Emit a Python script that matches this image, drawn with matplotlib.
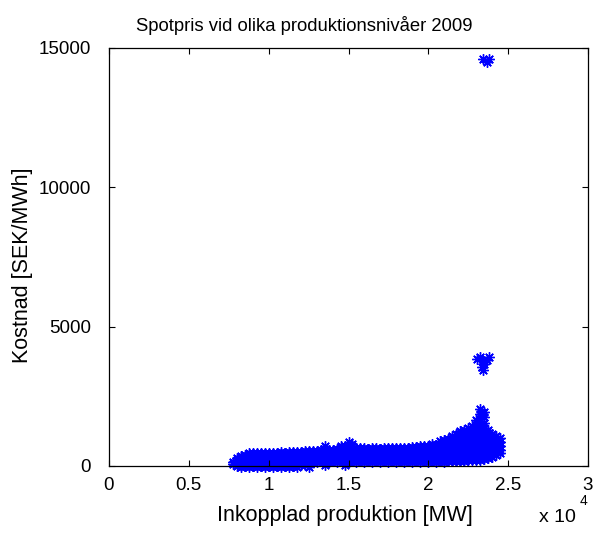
import matplotlib
matplotlib.use("Agg")
import matplotlib.pyplot as plt
from matplotlib.ticker import FixedLocator, FixedFormatter

plt.rcParams['font.family'] = ['Liberation Sans', 'DejaVu Sans']

# ---- data ----
title = "Spotpris vid olika produktionsnivåer 2009"
xlabel = "Inkopplad produktion [MW]"
ylabel = "Kostnad [SEK/MWh]"

x_ticks = [0, 5000, 10000, 15000, 20000, 25000, 30000]
x_tick_labels = ["0", "0.5", "1", "1.5", "2", "2.5", "3"]
y_ticks = [0, 5000, 10000, 15000]
y_tick_labels = ["0", "5000", "10000", "15000"]

# production levels (MW) and the prices (SEK/MWh) observed at each level
levels_mw = [7750, 8000, 8250, 8500, 8750, 9000, 9250, 9500, 9750, 10000,
             10250, 10500, 10750, 11000, 11250, 11500, 11750, 12000, 12250, 12500,
             12750, 13000, 13250, 13500, 13750, 14000, 14250, 14500, 14750, 15000,
             15250, 15500, 15750, 16000, 16250, 16500, 16750, 17000, 17250, 17500,
             17750, 18000, 18250, 18500, 18750, 19000, 19250, 19500, 19750, 20000,
             20250, 20500, 20750, 21000, 21250, 21500, 21750, 22000, 22250, 22500,
             22750, 23000, 23250, 23500, 23750, 24000, 24250, 24500]
prices_by_level = [
    [60, 150],
    [0, 110, 220, 300],
    [-20, 90, 200, 320, 360],
    [0, 100, 200, 300, 400],
    [-30, 80, 190, 290, 380, 450],
    [0, 110, 220, 320, 410, 470],
    [-20, 90, 200, 300, 400, 460],
    [0, 120, 230, 330, 420, 480],
    [-40, 80, 190, 290, 390, 470],
    [0, 100, 210, 310, 410, 470],
    [-20, 90, 200, 300, 400, 480],
    [0, 110, 220, 320, 420, 470],
    [-30, 100, 200, 310, 400, 490],
    [0, 110, 210, 320, 420, 480],
    [-20, 90, 200, 300, 410, 490],
    [10, 120, 230, 330, 420, 500],
    [-30, 100, 210, 310, 410, 490],
    [20, 120, 220, 320, 430, 510],
    [40, 140, 240, 340, 440, 530],
    [-20, 110, 220, 330, 430, 540],
    [160, 260, 360, 460, 540],
    [150, 250, 350, 450, 550],
    [170, 270, 370, 470, 560],
    [40, 140, 240, 340, 450, 560, 720],
    [160, 260, 370, 480, 580],
    [170, 270, 380, 490, 590],
    [160, 270, 380, 490, 600],
    [170, 270, 380, 490, 590, 660, 700],
    [40, 150, 260, 370, 480, 600, 700],
    [160, 270, 380, 490, 600, 720, 860],
    [170, 280, 390, 500, 610, 700, 790],
    [160, 260, 360, 460, 570, 650],
    [170, 270, 370, 470, 560, 630],
    [160, 260, 360, 460, 560, 640],
    [170, 270, 370, 470, 560, 620],
    [160, 260, 360, 460, 550, 630],
    [170, 280, 380, 480, 570, 640],
    [160, 260, 360, 460, 560, 620],
    [170, 280, 380, 480, 570, 640],
    [160, 260, 360, 460, 560, 630],
    [170, 270, 370, 470, 560, 650],
    [160, 270, 370, 470, 570, 640],
    [170, 270, 370, 470, 570, 650],
    [160, 270, 370, 470, 570, 630],
    [170, 280, 380, 480, 580, 660],
    [160, 270, 380, 490, 590, 680],
    [170, 280, 390, 490, 590, 690],
    [160, 270, 380, 490, 590, 700],
    [170, 280, 390, 500, 600, 720],
    [160, 280, 390, 500, 610, 710],
    [170, 290, 400, 510, 620, 720, 800],
    [160, 280, 400, 520, 640, 760],
    [170, 290, 410, 530, 650, 770, 880],
    [160, 280, 400, 520, 650, 780, 920],
    [170, 290, 420, 550, 680, 810, 960],
    [170, 290, 420, 550, 680, 820, 970, 1080],
    [180, 300, 430, 560, 700, 840, 1000, 1150],
    [180, 300, 430, 560, 700, 850, 1000, 1150, 1250],
    [190, 310, 450, 590, 730, 870, 1020, 1180, 1300],
    [200, 330, 470, 610, 750, 900, 1060, 1220, 1350],
    [210, 340, 480, 620, 770, 920, 1080, 1250, 1420],
    [220, 350, 500, 650, 800, 960, 1120, 1300, 1480, 1650],
    [230, 370, 510, 670, 830, 990, 1150, 1330, 1520, 1700, 1880, 2060],
    [250, 390, 540, 690, 850, 1010, 1170, 1350, 1550, 1760, 1950],
    [280, 420, 560, 710, 860, 1000, 1150, 1300],
    [330, 470, 610, 760, 900, 1050, 1150],
    [400, 530, 670, 810, 940, 1080],
    [460, 590, 730, 860, 1000],
]

# isolated high-price hours
spike_mw = [23060, 23250, 23400, 23500, 23350, 23400, 23800, 23650,
            23450, 23800, 23650]
spike_price = [3850, 3900, 3780, 3650, 3560, 3450, 3920, 3800,
               14600, 14600, 14480]

# ---- flatten ----
xs, ys = [], []
for lv, plist in zip(levels_mw, prices_by_level):
    for p in plist:
        xs.append(lv)
        ys.append(p)
xs += spike_mw
ys += spike_price

# ---- figure ----
W, H, DPI = 595, 533, 100
fig = plt.figure(figsize=(W / DPI, H / DPI), dpi=DPI)
left, right, top, bottom = 109, 588, 48, 466
ax = fig.add_axes([left / W, 1 - bottom / H, (right - left) / W, (bottom - top) / H])

ax.plot(xs, ys, linestyle='none', marker=(8, 2, 0), color=(0, 0, 1),
        markersize=7.5, markeredgewidth=1.0, clip_on=False, zorder=1)

ax.set_xlim(0, 30000)
ax.set_ylim(0, 15000)
ax.xaxis.set_major_locator(FixedLocator(x_ticks))
ax.xaxis.set_major_formatter(FixedFormatter(x_tick_labels))
ax.yaxis.set_major_locator(FixedLocator(y_ticks))
ax.yaxis.set_major_formatter(FixedFormatter(y_tick_labels))
ax.tick_params(direction='in', length=4, width=0.8, top=True, right=True,
               labelsize=13.5, colors='black')
ax.tick_params(axis='x', pad=8)
ax.tick_params(axis='y', pad=13)
for s in ax.spines.values():
    s.set_linewidth(0.9)
    s.set_color('black')
    s.set_zorder(3)

ax.set_title(title, fontsize=13.3, pad=12, x=(304 - left) / (right - left))
ax.set_xlabel(xlabel, fontsize=15.5)
ax.xaxis.set_label_coords((345 - left) / (right - left), -(515 - bottom) / (bottom - top))
ax.xaxis.label.set_va('center')
ax.set_ylabel(ylabel, fontsize=15.5)
ax.yaxis.set_label_coords(-0.159, 0.48)

fig.text(557 / W, 1 - 518 / H, "x 10", fontsize=14, ha='center', va='center')
fig.text(584 / W, 1 - 501 / H, "4", fontsize=10, ha='center', va='center')

fig.savefig("out.png", dpi=DPI)
